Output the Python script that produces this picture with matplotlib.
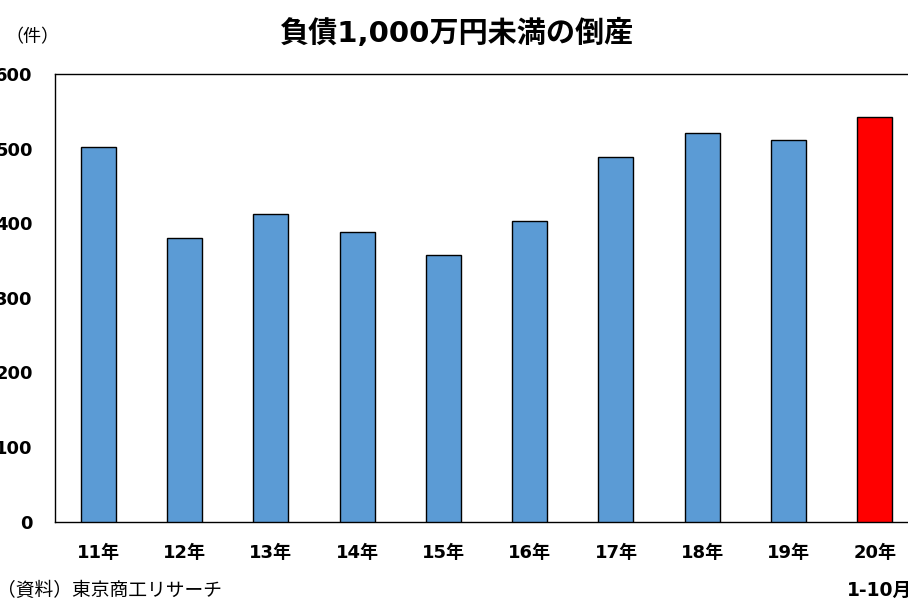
import matplotlib
matplotlib.use("Agg")
import matplotlib.pyplot as plt
from matplotlib.transforms import blended_transform_factory

# Bankruptcies with liabilities under 10 million yen (count)
years = ["11年", "12年", "13年", "14年", "15年", "16年", "17年", "18年", "19年", "20年"]
counts = [502, 380, 412, 388, 358, 403, 489, 521, 512, 542]
bar_colors = ["#5B9BD5"] * 9 + ["#FF0000"]
y_ticks = [0, 100, 200, 300, 400, 500, 600]

FONT = ["DejaVu Sans", "Noto Sans CJK JP"]
plt.rcParams["font.family"] = FONT

W, H = 908, 599
fig = plt.figure(figsize=(W / 100, H / 100), dpi=100)
ax = fig.add_axes([55 / W, 1 - 521.7 / H, 863 / W, (521.7 - 74) / H])

x = list(range(len(years)))
ax.bar(x, counts, width=0.405, color=bar_colors, edgecolor="black", linewidth=1.0, zorder=3)

ax.set_xlim(-0.5, len(years) - 0.5)
ax.set_ylim(0, 600)
ax.set_yticks(y_ticks)
ax.set_yticklabels([str(v) for v in y_ticks], fontsize=13, fontweight="bold")
ax.set_xticks(x)
ax.set_xticklabels(years, fontsize=13, fontweight="bold")
ax.tick_params(axis="y", length=0, pad=16)
ax.tick_params(axis="x", length=0, pad=16)

for s in ax.spines.values():
    s.set_color("black")
    s.set_linewidth(1.0)

fig.text(456 / W, 1 - 33 / H, "負債1,000万円未満の倒産", ha="center", va="center",
         fontsize=21, fontweight="bold")
fig.text(32 / W, 1 - 37 / H, "（件）", ha="center", va="center", fontsize=13,
         family=["Noto Sans CJK JP"])
fig.text(-3 / W, 1 - 590 / H, "（資料）東京商工リサーチ", ha="left", va="center",
         fontsize=13.5, family=["Noto Sans CJK JP"])
ax.text(9.05, 1 - 590 / H, "1-10月",
        transform=blended_transform_factory(ax.transData, fig.transFigure),
        ha="center", va="center", fontsize=13.5, fontweight="bold")

fig.savefig("out.png", dpi=100)
